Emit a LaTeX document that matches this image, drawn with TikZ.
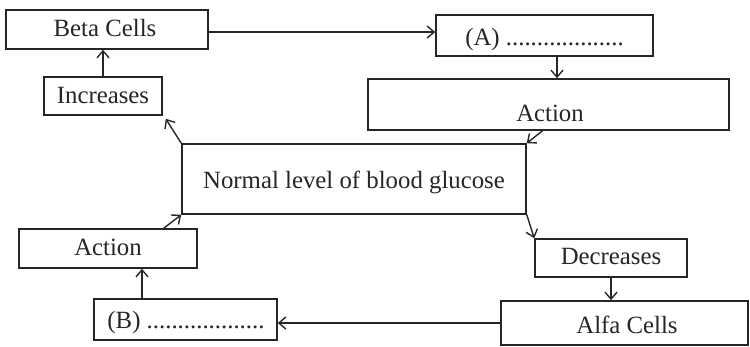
\documentclass[tikz,border=0pt]{standalone}
\usepackage{fontspec}
\setmainfont{Liberation Serif}
\usetikzlibrary{arrows.meta}
\begin{document}
\begin{tikzpicture}[x=1pt,y=-1pt,
  box/.style={draw=black!85, line width=1.6pt, rectangle, inner sep=0pt},
  txt/.style={inner sep=0pt, font=\fontsize{24.8}{28}\selectfont, text=black!85},
  conn/.style={draw=black!85, line width=1.4pt, -{Straight Barb[length=7pt,width=12pt,line width=1.4pt]}}]
\useasboundingbox (0,0) rectangle (750,346);
\fill[white] (0,0) rectangle (750,346);
% boxes
\node[box, minimum width=202pt, minimum height=39pt] (beta) at (107,29.5) {};
\node[txt] (betat) at (105,28) {Beta Cells};
\node[box, minimum width=118pt, minimum height=38pt] (inc) at (103,96) {};
\node[txt] (inct) at (103,95.5) {Increases};
\node[box, minimum width=217pt, minimum height=41pt] (A) at (544.5,35.5) {};
\node[txt] (At) at (544.5,40) {(A) ...................};
\node[box, minimum width=361pt, minimum height=51pt] (act1) at (548.5,104.5) {};
\node[txt] (act1t) at (550,113) {Action};
\node[box, minimum width=344pt, minimum height=70pt] (norm) at (354,179) {};
\node[txt] (normt) at (354,182) {Normal level of blood glucose};
\node[box, minimum width=152pt, minimum height=38pt] (dec) at (611,258) {};
\node[txt] (dect) at (611,256) {Decreases};
\node[box, minimum width=247pt, minimum height=44pt] (alfa) at (624.5,323) {};
\node[txt] (alfat) at (627,325) {Alfa Cells};
\node[box, minimum width=183pt, minimum height=41pt] (B) at (185.5,319.5) {};
\node[txt] (Bt) at (186,323) {(B) ...................};
\node[box, minimum width=178pt, minimum height=39pt] (act2) at (108,248.5) {};
\node[txt] (act2t) at (108,247) {Action};
% connectors
\draw[conn] ([yshift=-2.5pt]beta.east) -- ([yshift=3.5pt]A.west);
\draw[conn] (inc.north) -- (inc.north |- beta.south);
\draw[conn] (norm.north west) -- ([xshift=3pt,yshift=-3pt]inc.south east);
\draw[conn] ([xshift=12.5pt]A.south) -- ([xshift=12.5pt]A.south |- act1.north);
\draw[conn] ([xshift=-6pt]act1.south) -- (norm.north east);
\draw[conn] (norm.south east) -- (dec.north west);
\draw[conn] (dec.south) -- (dec.south |- alfa.north);
\draw[conn] (alfa.west) -- (alfa.west -| B.east);
\draw[conn] ([xshift=-43.5pt]B.north) -- ([xshift=-43.5pt]B.north |- act2.south);
\draw[conn] ([xshift=-34pt]act2.north east) -- (norm.south west);
\end{tikzpicture}
\end{document}
